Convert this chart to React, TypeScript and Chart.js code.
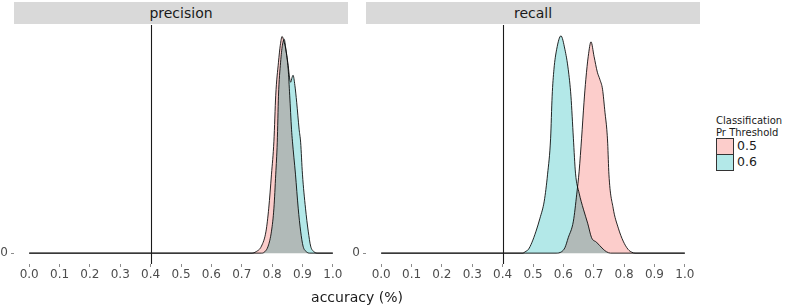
import React, { useEffect, useRef } from 'react';
import { Chart, registerables } from 'chart.js';

Chart.register(...registerables);

// ---------- data ----------
const panelTitles = ['precision', 'recall'];
const thresholdLabels = ['0.5', '0.6'];
const legendTitle = ['Classification', 'Pr Threshold'];
const xAxisTitle = 'accuracy (%)';

const xTickValues = [0, 0.1, 0.2, 0.3, 0.4, 0.5, 0.6, 0.7, 0.8, 0.9, 1.0];
const xTickLabels = ['0.0', '0.1', '0.2', '0.3', '0.4', '0.5', '0.6', '0.7', '0.8', '0.9', '1.0'];
const yTickValues = [0];
const yTickLabels = ['0'];
const referenceLineX = 0.4;

// precision, threshold 0.5
const precisionX05 = [0, 0.734, 0.747, 0.765, 0.78, 0.789, 0.798, 0.806, 0.812, 0.821, 0.827, 0.833, 0.839, 0.845, 0.853, 0.858, 0.864, 0.867, 0.877, 0.886, 0.894, 0.902, 0.913, 0.924, 1.0];
const precisionY05 = [0, 0, 0.07, 0.35, 1.1, 2.25, 3.95, 5.6, 7.9, 9.55, 10.4, 10.84, 10.6, 10.2, 9.2, 7.9, 6.2, 5.6, 3.95, 2.25, 1.1, 0.35, 0.07, 0, 0];
// precision, threshold 0.6
const precisionX06 = [0, 0.766, 0.776, 0.787, 0.798, 0.806, 0.812, 0.817, 0.821, 0.828, 0.834, 0.84, 0.845, 0.852, 0.861, 0.866, 0.869, 0.875, 0.881, 0.889, 0.894, 0.9, 0.91, 0.919, 0.927, 0.938, 0.951, 1.0];
const precisionY06 = [0, 0, 0.07, 0.35, 1.1, 2.25, 3.95, 5.55, 7.85, 9.55, 10.4, 10.7, 10.25, 9.5, 8.55, 8.8, 8.9, 8.4, 7.55, 6.2, 5.55, 3.95, 2.25, 1.1, 0.35, 0.07, 0, 0];
// recall, threshold 0.5
const recallX05 = [0, 0.576, 0.594, 0.605, 0.616, 0.633, 0.644, 0.652, 0.66, 0.668, 0.674, 0.682, 0.691, 0.701, 0.712, 0.72, 0.729, 0.737, 0.743, 0.746, 0.75, 0.764, 0.781, 0.797, 0.813, 0.825, 0.836, 1.0];
const recallY05 = [0, 0, 0.07, 0.27, 0.77, 1.6, 2.95, 4.1, 5.75, 7.55, 8.7, 9.85, 10.57, 9.85, 9.05, 8.7, 8.2, 7.05, 6.2, 5.5, 3.95, 2.25, 1.25, 0.6, 0.19, 0.05, 0, 0];
// recall, threshold 0.6
const recallX06 = [0, 0.467, 0.474, 0.485, 0.496, 0.51, 0.523, 0.537, 0.548, 0.558, 0.563, 0.569, 0.578, 0.592, 0.605, 0.616, 0.625, 0.633, 0.64, 0.652, 0.666, 0.68, 0.693, 0.709, 0.731, 0.742, 0.755, 1.0];
const recallY06 = [0, 0, 0.07, 0.19, 0.52, 1.1, 1.75, 2.6, 3.95, 5.75, 7.85, 9.2, 10.2, 10.87, 10.2, 9.2, 7.85, 5.75, 4.0, 3.0, 2.2, 1.5, 0.77, 0.55, 0.2, 0.07, 0, 0];

// ---------- styles ----------
const FILL_05 = '#fccdcb';
const FILL_06 = '#b3e8e8';
const OUTLINE = '#262626';
const FONT = "'DejaVu Sans', sans-serif";

const toPoints = (xs: number[], ys: number[]) => xs.map((x, i) => ({ x, y: ys[i] }));

const yMaxData = Math.max(...precisionY05, ...precisionY06, ...recallY05, ...recallY06);

const blendPlugin = {
  id: 'blend',
  beforeDatasetsDraw(chart: any) {
    chart.ctx.save();
    chart.ctx.globalCompositeOperation = 'multiply';
  },
  afterDatasetsDraw(chart: any) {
    chart.ctx.restore();
  },
};

const vlinePlugin = {
  id: 'vline',
  afterDatasetsDraw(chart: any) {
    const { ctx, chartArea, scales } = chart;
    const x = Math.round(scales.x.getPixelForValue(referenceLineX)) + 0.5;
    ctx.save();
    ctx.strokeStyle = '#1a1a1a';
    ctx.lineWidth = 1.1;
    ctx.beginPath();
    ctx.moveTo(x, chartArea.top);
    ctx.lineTo(x, chartArea.bottom);
    ctx.stroke();
    ctx.restore();
  },
};

function makeConfig(d05: any[], d06: any[]): any {
  const ds = (label: string, data: any[], color: string) => ({
    label,
    data,
    backgroundColor: color,
    borderColor: OUTLINE,
    borderWidth: 1,
    fill: 'origin',
    pointRadius: 0,
    pointHoverRadius: 0,
    cubicInterpolationMode: 'monotone',
  });
  const tickGrid = {
    display: true,
    drawOnChartArea: false,
    drawTicks: true,
    tickLength: 3,
    tickColor: '#8c8c8c',
    lineWidth: 1,
  };
  return {
    type: 'line',
    data: {
      datasets: [ds(thresholdLabels[0], d05, FILL_05), ds(thresholdLabels[1], d06, FILL_06)],
    },
    options: {
      animation: false,
      responsive: false,
      maintainAspectRatio: false,
      events: [],
      layout: { padding: { top: 25, right: 4, left: 0, bottom: 0 } },
      plugins: { legend: { display: false }, tooltip: { enabled: false }, title: { display: false } },
      scales: {
        x: {
          type: 'linear',
          min: -0.05,
          max: 1.05,
          afterBuildTicks: (s: any) => {
            s.ticks = xTickValues.map((v) => ({ value: v }));
          },
          afterFit: (s: any) => {
            s.height = 43;
          },
          ticks: {
            autoSkip: false,
            maxRotation: 0,
            padding: 1,
            color: '#4d4d4d',
            font: { family: FONT, size: 12 },
            callback: (_v: any, i: number) => xTickLabels[i],
          },
          grid: tickGrid,
          border: { display: false },
        },
        y: {
          type: 'linear',
          min: -0.05 * yMaxData,
          max: 1.05 * yMaxData,
          afterBuildTicks: (s: any) => {
            s.ticks = yTickValues.map((v) => ({ value: v }));
          },
          afterFit: (s: any) => {
            s.width = 14;
          },
          ticks: {
            padding: 3,
            color: '#4d4d4d',
            font: { family: FONT, size: 12 },
            callback: (_v: any, i: number) => yTickLabels[i],
          },
          grid: tickGrid,
          border: { display: false },
        },
      },
    },
    plugins: [blendPlugin, vlinePlugin],
  };
}

export default function App() {
  const leftRef = useRef<HTMLCanvasElement>(null);
  const rightRef = useRef<HTMLCanvasElement>(null);

  useEffect(() => {
    const c1 = new Chart(leftRef.current as HTMLCanvasElement, makeConfig(toPoints(precisionX05, precisionY05), toPoints(precisionX06, precisionY06)));
    const c2 = new Chart(rightRef.current as HTMLCanvasElement, makeConfig(toPoints(recallX05, recallY05), toPoints(recallX06, recallY06)));
    return () => {
      c1.destroy();
      c2.destroy();
    };
  }, []);

  const strip = (left: number, width: number, text: string) => (
    <div
      style={{
        position: 'absolute',
        left,
        top: 2,
        width,
        height: 22,
        background: '#d9d9d9',
        color: '#1a1a1a',
        font: `14px ${FONT}`,
        lineHeight: '22px',
        textAlign: 'center',
      }}
    >
      {text}
    </div>
  );

  const key = (top: number, color: string, label: string) => (
    <>
      <div
        style={{
          position: 'absolute',
          left: 716,
          top,
          width: 18,
          height: 17,
          boxSizing: 'border-box',
          border: '1px solid #333',
          background: color,
        }}
      />
      <div
        style={{
          position: 'absolute',
          left: 737,
          top,
          height: 17,
          lineHeight: '17px',
          font: `12.5px ${FONT}`,
          color: '#1a1a1a',
          whiteSpace: 'nowrap',
        }}
      >
        {label}
      </div>
    </>
  );

  return (
    <div style={{ position: 'absolute', left: 0, top: 0, width: 785, height: 307, background: '#fff', overflow: 'hidden' }}>
      <canvas ref={leftRef} width={352} height={307} style={{ position: 'absolute', left: 0, top: 0, width: 352, height: 307 }} />
      <canvas ref={rightRef} width={352} height={307} style={{ position: 'absolute', left: 352, top: 0, width: 352, height: 307 }} />
      {strip(14, 334, panelTitles[0])}
      {strip(366, 334, panelTitles[1])}
      <div
        style={{
          position: 'absolute',
          left: 14,
          top: 289,
          width: 686,
          height: 16,
          lineHeight: '16px',
          textAlign: 'center',
          font: `14px ${FONT}`,
          color: '#1a1a1a',
        }}
      >
        {xAxisTitle}
      </div>
      <div
        style={{
          position: 'absolute',
          left: 716,
          top: 115,
          font: `10px ${FONT}`,
          lineHeight: '12px',
          color: '#1a1a1a',
          whiteSpace: 'nowrap',
        }}
      >
        {legendTitle[0]}
        <br />
        {legendTitle[1]}
      </div>
      {key(138, FILL_05, thresholdLabels[0])}
      {key(154, FILL_06, thresholdLabels[1])}
    </div>
  );
}
